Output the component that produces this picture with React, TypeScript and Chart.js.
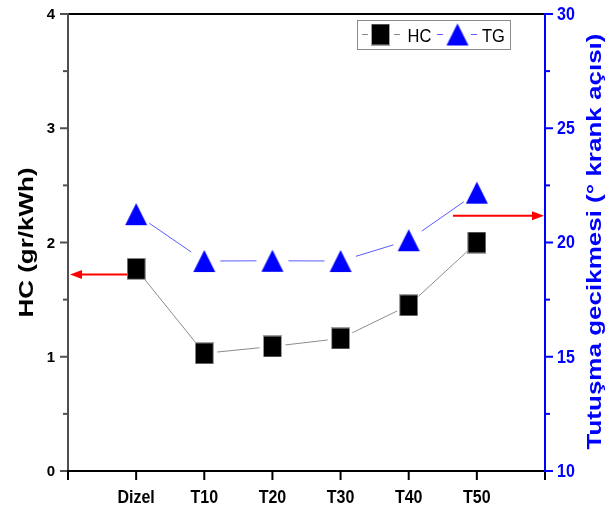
import React, { useEffect, useRef } from 'react';
import { Chart, registerables } from 'chart.js';
Chart.register(...registerables);

const categories = ['', 'Dizel', 'T10', 'T20', 'T30', 'T40', 'T50', ''];
const hcValues = [null, 1.77, 1.03, 1.09, 1.16, 1.45, 2.0, null];
const tgValues = [null, 21.24, 19.19, 19.2, 19.19, 20.1, 22.18, null];
const hcTicks = [0, 1, 2, 3, 4];
const hcMinorTicks = [0.5, 1.5, 2.5, 3.5];
const tgTicks = [10, 15, 20, 25, 30];
const tgMinorTicks = [12.5, 17.5, 22.5, 27.5];
const leftArrow = { fromIndex: 1, value: 1.72 };
const rightArrow = { fromIndex: 5.65, value: 21.17 };
const legendLabels = ['HC', 'TG'];
const leftTitle = 'HC (gr/kWh)';
const rightTitle = 'Tutuşma gecikmesi (° krank açısı)';

const FONT = '"Liberation Sans", Arial, sans-serif';
const BLUE = '#0000ff';

function makeSquare(): HTMLCanvasElement {
  const c = document.createElement('canvas');
  c.width = 19;
  c.height = 22;
  const ctx = c.getContext('2d')!;
  ctx.fillStyle = '#000';
  ctx.fillRect(1, 1, 17, 20);
  ctx.strokeStyle = '#a0a0a0';
  ctx.lineWidth = 1;
  ctx.strokeRect(0.5, 0.5, 18, 21);
  return c;
}

function makeTriangle(): HTMLCanvasElement {
  const c = document.createElement('canvas');
  c.width = 24;
  c.height = 24;
  const ctx = c.getContext('2d')!;
  ctx.fillStyle = BLUE;
  ctx.beginPath();
  ctx.moveTo(12, 1);
  ctx.lineTo(23, 23);
  ctx.lineTo(1, 23);
  ctx.closePath();
  ctx.fill();
  return c;
}

function drawArrow(ctx: CanvasRenderingContext2D, x1: number, x2: number, y: number) {
  // x1 start, x2 tip
  const dir = Math.sign(x2 - x1);
  ctx.save();
  ctx.strokeStyle = '#ff0000';
  ctx.fillStyle = '#ff0000';
  ctx.lineWidth = 2;
  ctx.beginPath();
  ctx.moveTo(x1, y);
  ctx.lineTo(x2 - dir * 10, y);
  ctx.stroke();
  ctx.beginPath();
  ctx.moveTo(x2, y);
  ctx.lineTo(x2 - dir * 12, y - 4.5);
  ctx.lineTo(x2 - dir * 12, y + 4.5);
  ctx.closePath();
  ctx.fill();
  ctx.restore();
}

function stretchedText(ctx: CanvasRenderingContext2D, text: string, x: number, y: number, sy: number) {
  ctx.save();
  ctx.translate(x, y);
  ctx.scale(1, sy);
  ctx.fillText(text, 0, 0);
  ctx.restore();
}

export default function App() {
  const ref = useRef<HTMLCanvasElement | null>(null);
  useEffect(() => {
    if (!ref.current) return;
    const square = makeSquare();
    const triangle = makeTriangle();

    const linePlugin = {
      id: 'custom',
      beforeDatasetsDraw(chart: any) {
        const ctx: CanvasRenderingContext2D = chart.ctx;
        const xs = chart.scales.x;
        const ys = chart.scales.y;
        const y1 = chart.scales.y1;
        // connecting lines with gaps
        const styles = [
          { color: '#8c8c8c', gap: 13 },
          { color: '#5a5aff', gap: 16 },
        ];
        chart.data.datasets.forEach((_: any, di: number) => {
          const meta = chart.getDatasetMeta(di);
          const pts = meta.data.filter((p: any) => !p.skip && isFinite(p.y));
          ctx.save();
          ctx.strokeStyle = styles[di].color;
          ctx.lineWidth = 1;
          for (let i = 0; i < pts.length - 1; i++) {
            const a = pts[i];
            const b = pts[i + 1];
            const dx = b.x - a.x;
            const dy = b.y - a.y;
            const len = Math.hypot(dx, dy);
            const g = styles[di].gap;
            ctx.beginPath();
            ctx.moveTo(a.x + (dx * g) / len, a.y + (dy * g) / len);
            ctx.lineTo(b.x - (dx * g) / len, b.y - (dy * g) / len);
            ctx.stroke();
          }
          ctx.restore();
        });
        // arrows
        const la = ys.getPixelForValue(leftArrow.value);
        drawArrow(ctx, xs.getPixelForValue(leftArrow.fromIndex), chart.chartArea.left + 2, la);
        const ra = y1.getPixelForValue(rightArrow.value);
        drawArrow(ctx, xs.getPixelForValue(rightArrow.fromIndex), chart.chartArea.right - 1, ra);
      },
      afterDraw(chart: any) {
        const ctx: CanvasRenderingContext2D = chart.ctx;
        const { left, right, top, bottom } = chart.chartArea;
        const xs = chart.scales.x;
        const ys = chart.scales.y;
        const y1 = chart.scales.y1;
        ctx.save();
        // top border
        ctx.strokeStyle = '#000';
        ctx.lineWidth = 2;
        ctx.beginPath();
        ctx.moveTo(left, top);
        ctx.lineTo(right, top);
        ctx.stroke();
        // left axis
        ctx.strokeStyle = '#505050';
        ctx.beginPath();
        ctx.moveTo(left, top - 1);
        ctx.lineTo(left, bottom);
        ctx.stroke();
        hcTicks.forEach((v) => {
          const py = ys.getPixelForValue(v);
          ctx.beginPath();
          ctx.moveTo(left - 8, py);
          ctx.lineTo(left, py);
          ctx.stroke();
        });
        hcMinorTicks.forEach((v) => {
          const py = ys.getPixelForValue(v);
          ctx.beginPath();
          ctx.moveTo(left - 5, py);
          ctx.lineTo(left, py);
          ctx.stroke();
        });
        // bottom axis
        ctx.strokeStyle = '#000';
        ctx.beginPath();
        ctx.moveTo(left - 1, bottom);
        ctx.lineTo(right, bottom);
        ctx.stroke();
        categories.forEach((_, i) => {
          const px = xs.getPixelForValue(i);
          ctx.beginPath();
          ctx.moveTo(px, bottom);
          ctx.lineTo(px, bottom + 9);
          ctx.stroke();
        });
        // right axis
        ctx.strokeStyle = BLUE;
        ctx.beginPath();
        ctx.moveTo(right, top - 1);
        ctx.lineTo(right, bottom + 1);
        ctx.stroke();
        tgTicks.forEach((v) => {
          const py = y1.getPixelForValue(v);
          ctx.beginPath();
          ctx.moveTo(right, py);
          ctx.lineTo(right + 8, py);
          ctx.stroke();
        });
        tgMinorTicks.forEach((v) => {
          const py = y1.getPixelForValue(v);
          ctx.beginPath();
          ctx.moveTo(right, py);
          ctx.lineTo(right + 5, py);
          ctx.stroke();
        });
        // tick labels
        ctx.fillStyle = '#000';
        ctx.font = `bold 15px ${FONT}`;
        ctx.textAlign = 'right';
        ctx.textBaseline = 'middle';
        hcTicks.forEach((v) => {
          ctx.fillText(String(v), left - 13, ys.getPixelForValue(v) + 1);
        });
        ctx.fillStyle = BLUE;
        ctx.font = `bold 16px ${FONT}`;
        ctx.textAlign = 'left';
        ctx.textBaseline = 'middle';
        tgTicks.forEach((v) => {
          stretchedText(ctx, String(v), right + 12, y1.getPixelForValue(v) + 1, 1.12);
        });
        ctx.fillStyle = '#000';
        ctx.font = `bold 16px ${FONT}`;
        ctx.textAlign = 'center';
        ctx.textBaseline = 'alphabetic';
        categories.forEach((c, i) => {
          if (!c) return;
          stretchedText(ctx, c, xs.getPixelForValue(i), 502.5, 1.15);
        });
        // axis titles
        ctx.font = `bold 26px ${FONT}`;
        ctx.textAlign = 'center';
        ctx.textBaseline = 'alphabetic';
        ctx.fillStyle = '#000';
        ctx.save();
        ctx.translate(33, (ys.getPixelForValue(4) + ys.getPixelForValue(0)) / 2 + 0);
        ctx.rotate(-Math.PI / 2);
        ctx.scale(1, 0.8);
        ctx.fillText(leftTitle, 0, 0);
        ctx.restore();
        ctx.fillStyle = BLUE;
        ctx.save();
        ctx.translate(601, 241.5);
        ctx.rotate(-Math.PI / 2);
        ctx.scale(1, 0.8);
        ctx.fillText(rightTitle, 0, 0);
        ctx.restore();
        // legend
        ctx.fillStyle = '#fff';
        ctx.fillRect(357.5, 20.5, 153, 29);
        ctx.strokeStyle = '#8a8a8a';
        ctx.lineWidth = 1;
        ctx.strokeRect(357.5, 20.5, 153, 29);
        const ly = 34.5;
        ctx.strokeStyle = '#8c8c8c';
        ctx.beginPath();
        ctx.moveTo(362, ly); ctx.lineTo(368, ly);
        ctx.moveTo(394, ly); ctx.lineTo(400, ly);
        ctx.stroke();
        ctx.drawImage(square, 380.5 - square.width / 2, ly - square.height / 2);
        ctx.strokeStyle = '#5a5aff';
        ctx.beginPath();
        ctx.moveTo(437, ly); ctx.lineTo(443, ly);
        ctx.moveTo(471, ly); ctx.lineTo(477, ly);
        ctx.stroke();
        ctx.drawImage(triangle, 457.5 - triangle.width / 2, ly - triangle.height / 2);
        ctx.fillStyle = '#000';
        ctx.font = `16.5px ${FONT}`;
        ctx.textAlign = 'left';
        ctx.textBaseline = 'alphabetic';
        stretchedText(ctx, legendLabels[0], 407.5, 42, 1.08);
        stretchedText(ctx, legendLabels[1], 482, 42, 1.08);
        ctx.restore();
      },
    };

    const chart = new Chart(ref.current, {
      type: 'line',
      data: {
        labels: categories,
        datasets: [
          {
            label: legendLabels[0],
            data: hcValues as any,
            yAxisID: 'y',
            showLine: false,
            pointStyle: square as any,
            pointRadius: 10,
            pointHoverRadius: 10,
            backgroundColor: '#000',
            borderColor: '#000',
          },
          {
            label: legendLabels[1],
            data: tgValues as any,
            yAxisID: 'y1',
            showLine: false,
            pointStyle: triangle as any,
            pointRadius: 10,
            pointHoverRadius: 10,
            backgroundColor: BLUE,
            borderColor: BLUE,
          },
        ],
      },
      options: {
        responsive: false,
        maintainAspectRatio: false,
        animation: false,
        events: [],
        layout: { padding: { top: 14, left: 0, right: 0, bottom: 0 } },
        plugins: { legend: { display: false }, tooltip: { enabled: false } },
        scales: {
          x: {
            type: 'category',
            offset: false,
            ticks: { display: false },
            grid: { display: false },
            border: { display: false },
            afterFit: (s: any) => { s.height = 40; },
          },
          y: {
            position: 'left',
            min: 0,
            max: 4,
            ticks: { display: false },
            grid: { display: false },
            border: { display: false },
            afterFit: (s: any) => { s.width = 68; },
          },
          y1: {
            position: 'right',
            min: 10,
            max: 30,
            ticks: { display: false },
            grid: { display: false },
            border: { display: false },
            afterFit: (s: any) => { s.width = 71; },
          },
        },
      } as any,
      plugins: [linePlugin],
    });
    return () => chart.destroy();
  }, []);

  return (
    <div style={{ position: 'fixed', left: 0, top: 0, width: 616, height: 511, background: '#fff' }}>
      <canvas ref={ref} width={616} height={511} style={{ width: 616, height: 511, display: 'block' }} />
    </div>
  );
}
